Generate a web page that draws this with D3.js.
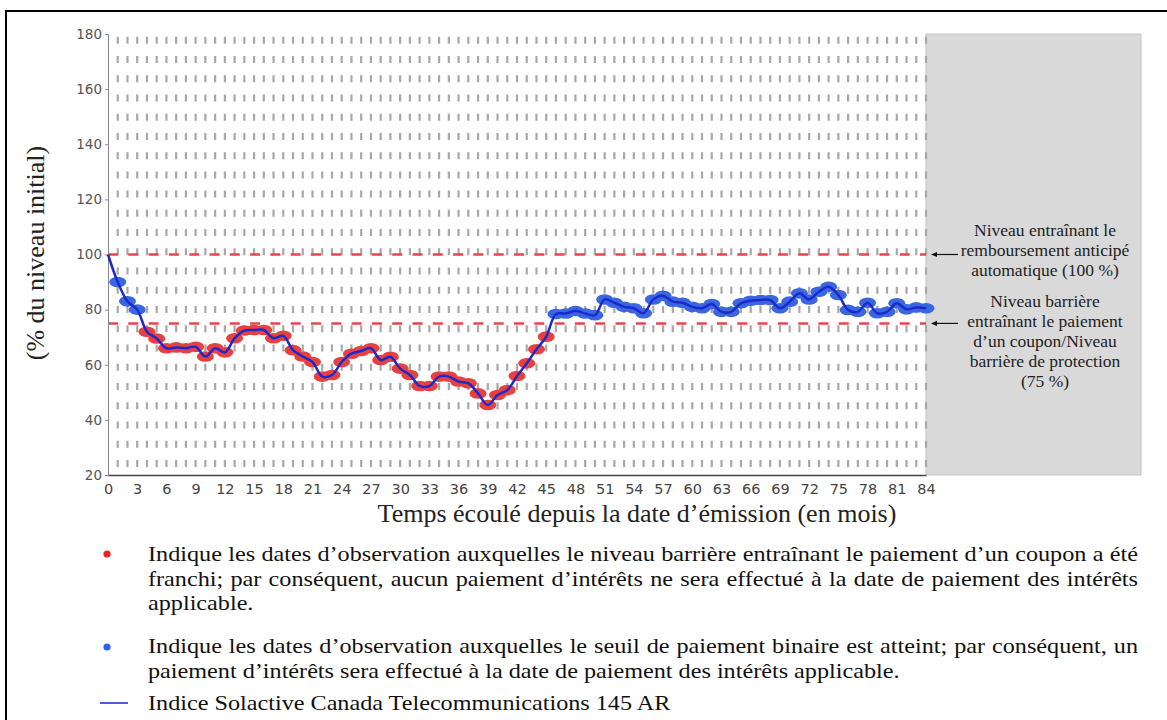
<!DOCTYPE html>
<html><head><meta charset="utf-8">
<script src="https://cdn.jsdelivr.net/npm/d3@7"></script>
<style>body{margin:0;background:#fff;} svg{display:block}</style>
</head><body><svg id="c" width="1167" height="720"></svg>
<script>
// ---- data ----
const months = d3.range(0, 85);
const values = [100,90,83,80,72,69.5,66,66.3,66,66.5,63,66,64.5,69.6,72.4,72.6,72.6,69.6,70.5,65.3,
  63,61,55.7,56.3,61,64,65,66,61.7,62.9,58.6,56.3,52.3,52.3,55.7,55.7,53.9,53.3,49.6,45.4,
  49,50.8,55.9,60.5,65.6,70.2,78.4,78.6,79.5,78.6,78,83.7,82.5,81,80.5,78.7,83.7,85,82.9,82.5,
  81,80.5,82,79.2,79.2,82.3,83.2,83.5,83.5,80.5,82.9,85.9,83.7,86.5,88.3,85.3,79.9,79.2,82.5,78.7,
  79.2,82.3,80.1,80.8,80.5];
const yTicks = [20,40,60,80,100,120,140,160,180];
const xTicks = d3.range(0, 85, 3);
const autocallLevel = 100;
const barrierLevel = 75;
const annotAutocall = ["Niveau entraînant le", "remboursement anticipé", "automatique (100 %)"];
const annotBarrier = ["Niveau barrière", "entraînant le paiement", "d’un coupon/Niveau", "barrière de protection", "(75 %)"];
const xTitle = "Temps écoulé depuis la date d’émission (en mois)";
const yTitle = "(% du niveau initial)";
const legendParas = [
  ["Indique les dates d’observation auxquelles le niveau barrière entraînant le paiement d’un coupon a été",
   "franchi; par conséquent, aucun paiement d’intérêts ne sera effectué à la date de paiement des intérêts",
   "applicable."],
  ["Indique les dates d’observation auxquelles le seuil de paiement binaire est atteint; par conséquent, un",
   "paiement d’intérêts sera effectué à la date de paiement des intérêts applicable."],
  ["Indice Solactive Canada Telecommunications 145 AR"]
];

// ---- layout ----
const svg = d3.select("#c");
const x = d3.scaleLinear().domain([0, 84]).range([108, 926]);
const y = d3.scaleLinear().domain([20, 180]).range([475, 34]);
const plotRight = 1141;
const RED = "#e8403f", BLUE_M = "#3b66e2", LINE = "#1b2acb";

// frame (top and left edges)
svg.append("path").attr("d", "M6,740 L6,11 L1167,11").attr("fill", "none")
  .attr("stroke", "#000").attr("stroke-width", 2);

// grey future region
svg.append("rect").attr("x", x(84)).attr("y", y(180)).attr("width", plotRight - x(84))
  .attr("height", y(20) - y(180)).attr("fill", "#d9d9d9").attr("stroke", "#c4c4c4").attr("stroke-width", 1);

// vertical dashed grid
svg.append("g").selectAll("line").data(months.slice(1)).join("line")
  .attr("x1", d => x(d)).attr("x2", d => x(d))
  .attr("y1", y(180) + 2.7).attr("y2", y(20))
  .attr("stroke", "#a8a8a8").attr("stroke-width", 2.2).attr("stroke-dasharray", "7,12.24");

// level lines
svg.append("g").selectAll("line").data([autocallLevel, barrierLevel]).join("line")
  .attr("x1", x(0)).attr("x2", x(84)).attr("y1", d => y(d)).attr("y2", d => y(d))
  .attr("stroke", "#e8454a").attr("stroke-width", 2.5).attr("stroke-dasharray", "10,10.3");

// axes
const ya = svg.append("g").attr("transform", `translate(${x(0)},0)`)
  .call(d3.axisLeft(y).tickValues(yTicks).tickSize(3).tickPadding(3).tickFormat(d3.format("d")));
ya.select(".domain").attr("stroke", "#8a8a8a");
ya.selectAll(".tick line").attr("stroke", "#8a8a8a");
ya.selectAll("text").attr("font-family", "DejaVu Sans").attr("font-size", 13.5).attr("fill", "#555");

const xa = svg.append("g").attr("transform", `translate(0,${y(20)})`)
  .call(d3.axisBottom(x).tickValues(xTicks).tickSize(0).tickPadding(9).tickFormat(d3.format("d")));
xa.select(".domain").attr("stroke", "#444").attr("stroke-width", 1.5);
xa.selectAll("text").attr("font-family", "DejaVu Sans").attr("font-size", 14.5).attr("fill", "#444");

// titles
svg.append("text").attr("x", 637).attr("y", 522).attr("text-anchor", "middle")
  .attr("font-family", "Liberation Serif").attr("font-size", 26).attr("fill", "#222").text(xTitle);
svg.append("text").attr("transform", `translate(44,${253}) rotate(-90)`).attr("text-anchor", "middle")
  .attr("font-family", "Liberation Serif").attr("font-size", 26).attr("fill", "#222").text(yTitle);

// markers
const pts = months.slice(1).map(m => ({m, v: values[m]}));
svg.append("g").selectAll("ellipse").data(pts).join("ellipse")
  .attr("cx", d => x(d.m)).attr("cy", d => y(d.v)).attr("rx", 8.5).attr("ry", 5.3)
  .attr("fill", d => d.v >= barrierLevel ? BLUE_M : RED);

// line
const line = d3.line().x((d, i) => x(months[i])).y(d => y(d)).curve(d3.curveCatmullRom.alpha(0.5));
svg.append("path").datum(values).attr("d", line).attr("fill", "none")
  .attr("stroke", LINE).attr("stroke-width", 2.5);

// annotations
const ax = 1045;
const a1 = svg.append("text").attr("font-family", "Liberation Serif").attr("font-size", 17.5)
  .attr("fill", "#222").attr("text-anchor", "middle");
annotAutocall.forEach((t, i) => a1.append("tspan").attr("x", ax).attr("y", 236 + i * 20).text(t));
const a2 = svg.append("text").attr("font-family", "Liberation Serif").attr("font-size", 17.5)
  .attr("fill", "#222").attr("text-anchor", "middle");
annotBarrier.forEach((t, i) => a2.append("tspan").attr("x", ax).attr("y", 307 + i * 20).text(t));

svg.append("g").selectAll("line").data([autocallLevel, barrierLevel]).join("line")
  .attr("x1", 958).attr("x2", 934).attr("y1", d => y(d)).attr("y2", d => y(d))
  .attr("stroke", "#111").attr("stroke-width", 1.2);
svg.append("g").selectAll("path").data([autocallLevel, barrierLevel]).join("path")
  .attr("d", d => `M931,${y(d)} l6,-2.6 l0,5.2 Z`).attr("fill", "#111");

// legend (justified except last line of each paragraph)
const lx = 148, rightEdge = 1138, sx = 1.1;
const baselines = [[561.5, 585.9, 610.3], [653.5, 677.9], [710]];
const lg = svg.append("g").attr("transform", `translate(${lx},0) scale(${sx},1)`);
legendParas.forEach((para, pi) => {
  const tx = lg.append("text").attr("font-family", "Liberation Serif")
    .attr("font-size", 22).attr("fill", "#111");
  para.forEach((t, li) => {
    const ts = tx.append("tspan").attr("x", 0).attr("y", baselines[pi][li]).text(t);
    if (li < para.length - 1) {
      const w = ts.node().getComputedTextLength();
      const spaces = (t.match(/ /g) || []).length;
      ts.attr("word-spacing", ((rightEdge - lx) / sx - w) / spaces);
    }
  });
});
svg.append("circle").attr("cx", 107).attr("cy", 554).attr("r", 3.6).attr("fill", "#f02020");
svg.append("circle").attr("cx", 107).attr("cy", 647).attr("r", 3.6).attr("fill", "#3060f0");
svg.append("line").attr("x1", 100).attr("x2", 128).attr("y1", 703).attr("y2", 703)
  .attr("stroke", "#2030e0").attr("stroke-width", 1.6);
</script></body></html>
